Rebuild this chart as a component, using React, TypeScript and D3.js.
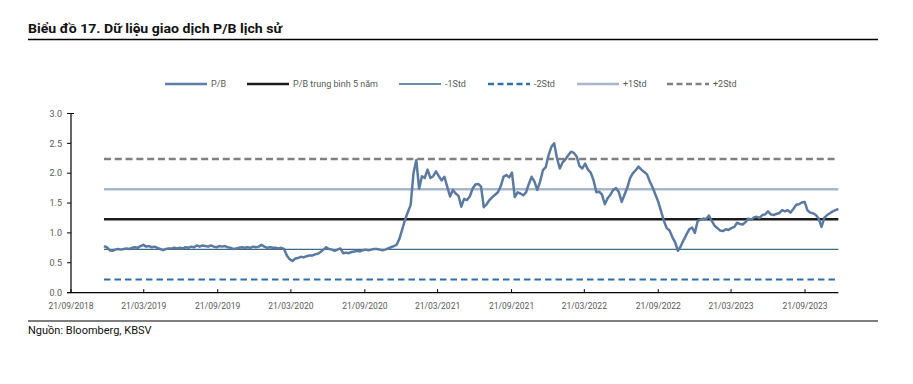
import React from "react";
import * as d3 from "d3";

const START_DATE = "2018-12-12";
const STEP_DAYS = 7;
const PB_VALUES: number[] = [
  0.78, 0.76, 0.71, 0.7, 0.72, 0.73, 0.72, 0.73, 0.74, 0.73,
  0.75, 0.76, 0.75, 0.78, 0.8, 0.77, 0.78, 0.76, 0.77, 0.75,
  0.73, 0.71, 0.73, 0.74, 0.74, 0.75, 0.74, 0.75, 0.74, 0.76,
  0.75, 0.77, 0.76, 0.79, 0.77, 0.79, 0.78, 0.77, 0.79, 0.77,
  0.76, 0.78, 0.77, 0.78, 0.76, 0.75, 0.73, 0.74, 0.75, 0.76,
  0.75, 0.76, 0.75, 0.77, 0.76, 0.77, 0.8, 0.77, 0.75, 0.76,
  0.75, 0.75, 0.74, 0.75, 0.73, 0.62, 0.56, 0.53, 0.57, 0.58,
  0.6, 0.59, 0.61, 0.62, 0.62, 0.64, 0.65, 0.68, 0.72, 0.76,
  0.73, 0.72, 0.7, 0.72, 0.74, 0.66, 0.67, 0.66, 0.68, 0.69,
  0.7, 0.69, 0.71, 0.72, 0.71, 0.72, 0.73, 0.73, 0.72, 0.71,
  0.72, 0.74, 0.76, 0.78, 0.8, 0.9, 1.06, 1.22, 1.35, 1.47,
  2.0, 2.22, 1.74, 1.95, 1.92, 2.06, 1.92, 1.95, 2.03, 1.95,
  1.88, 1.94, 1.77, 1.61, 1.72, 1.66, 1.62, 1.44, 1.57, 1.55,
  1.61, 1.74, 1.81, 1.82, 1.78, 1.43, 1.48, 1.55, 1.6, 1.64,
  1.68, 1.78, 1.94, 1.97, 1.93, 2.01, 1.6, 1.68, 1.66, 1.63,
  1.68, 1.82, 1.94, 1.86, 1.72, 1.86, 2.05, 2.1, 2.3, 2.44,
  2.5, 2.25, 2.08, 2.18, 2.23, 2.3, 2.36, 2.34, 2.28, 2.12,
  2.08, 2.16, 2.06, 2.01, 1.88, 1.68, 1.69, 1.64, 1.48, 1.58,
  1.64, 1.72, 1.75, 1.68, 1.52, 1.64, 1.76, 1.92, 2.0, 2.05,
  2.11, 2.06, 2.02, 1.98, 1.86, 1.76, 1.64, 1.52, 1.36, 1.2,
  1.08, 1.04, 0.93, 0.84, 0.7, 0.78, 0.88, 0.97, 1.06, 1.09,
  1.0, 1.2, 1.22, 1.24, 1.23, 1.29, 1.2, 1.12, 1.08, 1.04,
  1.03, 1.06, 1.05, 1.08, 1.1, 1.17, 1.15, 1.14, 1.18, 1.24,
  1.22, 1.26, 1.27, 1.25, 1.3, 1.31, 1.36, 1.31, 1.3, 1.32,
  1.33, 1.38, 1.36, 1.38, 1.34, 1.4, 1.47, 1.48, 1.51, 1.52,
  1.38, 1.34, 1.33, 1.3, 1.24, 1.1, 1.25, 1.3, 1.33, 1.36,
  1.38, 1.4,
];

const MEAN_5Y = 1.228;
const MINUS_1STD = 0.723;
const MINUS_2STD = 0.218;
const PLUS_1STD = 1.733;
const PLUS_2STD = 2.238;

const X_TICK_LABELS = [
  "21/09/2018", "21/03/2019", "21/09/2019", "21/03/2020", "21/09/2020", "21/03/2021",
  "21/09/2021", "21/03/2022", "21/09/2022", "21/03/2023", "21/09/2023",
];
const Y_TICKS = [0, 0.5, 1.0, 1.5, 2.0, 2.5, 3.0];

const LEGEND_LABELS = ["P/B", "P/B trung bình 5 năm", "-1Std", "-2Std", "+1Std", "+2Std"];

const FONT = "Roboto, 'Noto Sans', sans-serif";

export default function App() {
  const W = 913;
  const H = 384;
  const parse = d3.timeParse("%d/%m/%Y");
  const tickDates = X_TICK_LABELS.map((s) => parse(s) as Date);
  const start = d3.timeParse("%Y-%m-%d")(START_DATE) as Date;
  const data = PB_VALUES.map((v, i) => ({ date: d3.timeDay.offset(start, i * STEP_DAYS), value: v }));

  const x = d3
    .scaleTime()
    .domain([tickDates[0], tickDates[tickDates.length - 1]])
    .range([71, 805]);
  const y = d3.scaleLinear().domain([0, 3]).range([292.6, 113.5]);

  const line = d3
    .line<{ date: Date; value: number }>()
    .x((d) => x(d.date))
    .y((d) => y(d.value))
    .curve(d3.curveLinear);

  const x0 = x(data[0].date);
  const x1 = x(data[data.length - 1].date);

  const refLines = [
    { v: MINUS_2STD, color: "#2f6faa", w: 2, dash: "6.5,4" },
    { v: MINUS_1STD, color: "#3e6a86", w: 1.3, dash: null },
    { v: PLUS_1STD, color: "#a8b7cd", w: 2.5, dash: null },
    { v: MEAN_5Y, color: "#1c1c1c", w: 2.5, dash: null },
    { v: PLUS_2STD, color: "#808080", w: 2.5, dash: "7,3.8" },
  ];

  const legendStyles = [
    { color: "#5f7ea5", w: 2.5, dash: null, x: 165 },
    { color: "#1c1c1c", w: 2.5, dash: null, x: 247 },
    { color: "#3e6a86", w: 1.5, dash: null, x: 399 },
    { color: "#2f6faa", w: 2.5, dash: "6,3.5", x: 488 },
    { color: "#a8b7cd", w: 2.5, dash: null, x: 577 },
    { color: "#808080", w: 2.5, dash: "6,3.5", x: 667 },
  ];

  return (
    <svg width={W} height={H} style={{ position: "absolute", left: 0, top: 0, background: "#fff" }}>
      <rect x={0} y={0} width={W} height={H} fill="#fff" />
      <text x={28} y={33} fontFamily={FONT} fontWeight={700} fontSize={13} fill="#111" textLength={254} lengthAdjust="spacingAndGlyphs">
        Biểu đồ 17. Dữ liệu giao dịch P/B lịch sử
      </text>
      <line x1={28} x2={878} y1={39.5} y2={39.5} stroke="#000" strokeWidth={1.5} />

      {/* legend */}
      {LEGEND_LABELS.map((lab, i) => {
        const s = legendStyles[i];
        return (
          <g key={lab}>
            <line x1={s.x} x2={s.x + 42} y1={84} y2={84} stroke={s.color} strokeWidth={s.w} strokeDasharray={s.dash ?? undefined} />
            <text x={s.x + 46} y={84} dy="0.35em" fontFamily={FONT} fontSize={9} fill="#595959">
              {lab}
            </text>
          </g>
        );
      })}

      {/* reference lines */}
      {refLines.map((r, i) => (
        <line key={i} x1={x0} x2={x1} y1={y(r.v)} y2={y(r.v)} stroke={r.color} strokeWidth={r.w} strokeDasharray={r.dash ?? undefined} />
      ))}

      {/* series */}
      <path d={line(data) ?? ""} fill="none" stroke="#5b7aa2" strokeWidth={2.5} strokeLinejoin="round" />

      {/* y axis */}
      <line x1={71} x2={71} y1={y(3)} y2={y(0)} stroke="#000" strokeWidth={1.2} />
      {Y_TICKS.map((t) => (
        <g key={t}>
          <line x1={67} x2={71} y1={y(t)} y2={y(t)} stroke="#000" strokeWidth={1} />
          <text x={62} y={y(t)} dy="0.35em" textAnchor="end" fontFamily={FONT} fontSize={9} fill="#595959">
            {d3.format(".1f")(t)}
          </text>
        </g>
      ))}
      <line x1={68} x2={74} y1={y(3)} y2={y(3)} stroke="#000" strokeWidth={1} />

      {/* x axis */}
      <line x1={67} x2={x1} y1={y(0)} y2={y(0)} stroke="#000" strokeWidth={1.2} />
      {tickDates.map((d, i) => (
        <g key={i}>
          <line x1={x(d)} x2={x(d)} y1={y(0) - 3.5} y2={y(0)} stroke="#000" strokeWidth={1} />
          <text x={x(d)} y={306} dy="0.35em" textAnchor="middle" fontFamily={FONT} fontSize={8.5} fill="#595959">
            {X_TICK_LABELS[i]}
          </text>
        </g>
      ))}

      <line x1={28} x2={878} y1={321} y2={321} stroke="#000" strokeWidth={1.2} />
      <text x={28} y={334} fontFamily={FONT} fontSize={11} fill="#111">
        Nguồn: Bloomberg, KBSV
      </text>
    </svg>
  );
}
